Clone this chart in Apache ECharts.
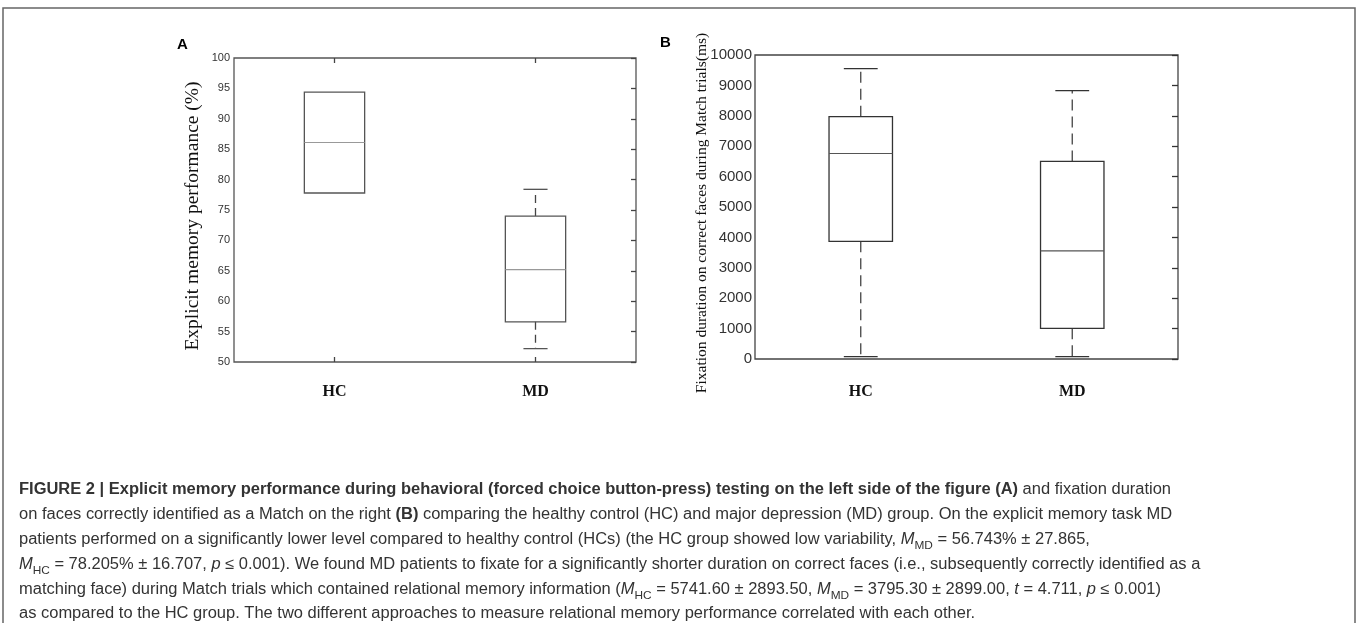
<!DOCTYPE html>
<html>
<head>
<meta charset="utf-8">
<script src="https://cdn.jsdelivr.net/npm/echarts@6/dist/echarts.min.js"></script>
<style>
  html, body { margin: 0; padding: 0; background: #fff; }
  #chart { width: 1357px; height: 623px; }
</style>
</head>
<body>
<div id="chart"></div>
<script>
// groups on the x axis
var groups = ['HC', 'MD'];

// panel A: explicit memory performance (%)
var memMin = [77.8, 52.2];
var memQ1 = [77.8, 56.6];
var memMed = [86.1, 65.2];
var memQ3 = [94.4, 74.0];
var memMax = [94.4, 78.4];

// panel B: fixation duration (ms)
var fixMin = [80, 80];
var fixQ1 = [3870, 1010];
var fixMed = [6760, 3560];
var fixQ3 = [7970, 6500];
var fixMax = [9550, 8830];

function rows(mn, q1, md, q3, mx) {
    var out = [];
    for (var i = 0; i < groups.length; i++) {
        out.push([i, mn[i], q1[i], md[i], q3[i], mx[i]]);
    }
    return out;
}

// box drawn with custom series so whiskers can be dashed
function boxRenderer(opt) {
    return function (params, api) {
        var i = api.value(0);
        var lo = api.coord([i, api.value(1)]);
        var q1 = api.coord([i, api.value(2)]);
        var md = api.coord([i, api.value(3)]);
        var q3 = api.coord([i, api.value(4)]);
        var hi = api.coord([i, api.value(5)]);
        var band = api.size([1, 0])[0];
        var bw = band * opt.boxFrac, cw = band * opt.capFrac;
        var cx = md[0];
        var solid = { stroke: opt.color, lineWidth: 1.3, fill: null };
        var dashed = { stroke: opt.whisker, lineWidth: 1.3, lineDash: opt.dash };
        var kids = [];
        if (hi[1] < q3[1] - 0.5) {
            kids.push({ type: 'line', shape: { x1: cx, y1: q3[1], x2: cx, y2: hi[1] }, style: dashed });
            kids.push({ type: 'line', shape: { x1: cx - cw / 2, y1: hi[1], x2: cx + cw / 2, y2: hi[1] }, style: solid });
        }
        if (lo[1] > q1[1] + 0.5) {
            kids.push({ type: 'line', shape: { x1: cx, y1: q1[1], x2: cx, y2: lo[1] }, style: dashed });
            kids.push({ type: 'line', shape: { x1: cx - cw / 2, y1: lo[1], x2: cx + cw / 2, y2: lo[1] }, style: solid });
        }
        kids.push({ type: 'rect', shape: { x: cx - bw / 2, y: q3[1], width: bw, height: q1[1] - q3[1] }, style: solid });
        kids.push({ type: 'line', shape: { x1: cx - bw / 2, y1: md[1], x2: cx + bw / 2, y2: md[1] }, style: { stroke: opt.median, lineWidth: 1.2 } });
        return { type: 'group', children: kids };
    };
}

var serif = '"Liberation Serif", "Times New Roman", serif';
var sans = '"Liberation Sans", Arial, sans-serif';

var chart = echarts.init(document.getElementById('chart'));

// caption in rich text, one line per row
var cap = [
    '{b|FIGURE 2 | Explicit memory performance during behavioral (forced choice button-press) testing on the left side of the figure (A)}{n| and fixation duration}',
    '{n|on faces correctly identified as a Match on the right }{b|(B)}{n| comparing the healthy control (HC) and major depression (MD) group. On the explicit memory task MD}',
    '{n|patients performed on a significantly lower level compared to healthy control (HCs) (the HC group showed low variability, }{i|M}{s|MD}{n| = 56.743% ± 27.865,}',
    '{i|M}{s|HC}{n| = 78.205% ± 16.707, }{i|p}{n| ≤ 0.001). We found MD patients to fixate for a significantly shorter duration on correct faces (i.e., subsequently correctly identified as a}',
    '{n|matching face) during Match trials which contained relational memory information (}{i|M}{s|HC}{n| = 5741.60 ± 2893.50, }{i|M}{s|MD}{n| = 3795.30 ± 2899.00, }{i|t}{n| = 4.711, }{i|p}{n| ≤ 0.001)}',
    '{n|as compared to the HC group. The two different approaches to measure relational memory performance correlated with each other.}'
].join('\n');

var LH = 24.8;
var FS = 16;

var option = {
    animation: false,
    grid: [
        { left: 234, top: 58, width: 402, height: 304, show: true, borderColor: '#555', borderWidth: 1.3, backgroundColor: 'transparent' },
        { left: 755, top: 55, width: 423, height: 304, show: true, borderColor: '#444', borderWidth: 1.3, backgroundColor: 'transparent' }
    ],
    xAxis: [
        {
            type: 'category', gridIndex: 0, data: groups, position: 'bottom',
            axisLine: { show: false },
            axisTick: { show: true, inside: true, alignWithLabel: true, length: 5, lineStyle: { color: '#444', width: 1.3 } },
            axisLabel: { margin: 22, fontFamily: serif, fontSize: 16, fontWeight: 'bold', color: '#111' }
        },
        {
            type: 'category', gridIndex: 0, data: groups, position: 'top',
            axisLine: { show: false },
            axisTick: { show: true, inside: true, alignWithLabel: true, length: 5, lineStyle: { color: '#444', width: 1.3 } },
            axisLabel: { show: false }
        },
        {
            type: 'category', gridIndex: 1, data: groups, position: 'bottom',
            axisLine: { show: false },
            axisTick: { show: false },
            axisLabel: { margin: 25, fontFamily: serif, fontSize: 16, fontWeight: 'bold', color: '#111' }
        }
    ],
    yAxis: [
        {
            type: 'value', gridIndex: 0, min: 50, max: 100, interval: 5, position: 'left',
            axisLine: { show: false }, axisTick: { show: false }, splitLine: { show: false },
            axisLabel: { margin: 4, fontFamily: sans, fontSize: 11, color: '#333' },
            name: 'Explicit memory performance (%)', nameLocation: 'middle', nameRotate: 90, nameGap: 31,
            nameMoveOverlap: false,
            nameTextStyle: { fontFamily: serif, fontSize: 19.5, color: '#111', padding: [0, 12, 0, 0] }
        },
        {
            type: 'value', gridIndex: 0, min: 50, max: 100, interval: 5, position: 'right',
            axisLine: { show: false }, splitLine: { show: false }, axisLabel: { show: false },
            axisTick: { show: true, inside: true, length: 5, lineStyle: { color: '#444', width: 1.3 } }
        },
        {
            type: 'value', gridIndex: 1, min: 0, max: 10000, interval: 1000, position: 'left',
            axisLine: { show: false }, axisTick: { show: false }, splitLine: { show: false },
            axisLabel: { margin: 3, fontFamily: sans, fontSize: 15, color: '#333', formatter: function (v) { return String(v); } },
            name: 'Fixation duration on correct faces during Match trials(ms)', nameLocation: 'middle', nameRotate: 90, nameGap: 45,
            nameMoveOverlap: false,
            nameTextStyle: { fontFamily: serif, fontSize: 15.5, color: '#111', padding: [0, 12, 0, 0] }
        },
        {
            type: 'value', gridIndex: 1, min: 0, max: 10000, interval: 1000, position: 'right',
            axisLine: { show: false }, splitLine: { show: false }, axisLabel: { show: false },
            axisTick: { show: true, inside: true, length: 6, lineStyle: { color: '#333', width: 1.3 } }
        }
    ],
    series: [
        {
            type: 'custom', xAxisIndex: 0, yAxisIndex: 0, clip: false,
            renderItem: boxRenderer({ boxFrac: 0.3, capFrac: 0.12, color: '#555', whisker: '#444', median: '#999', dash: [8, 5] }),
            data: rows(memMin, memQ1, memMed, memQ3, memMax)
        },
        {
            type: 'custom', xAxisIndex: 2, yAxisIndex: 2, clip: false,
            renderItem: boxRenderer({ boxFrac: 0.3, capFrac: 0.16, color: '#333', whisker: '#444', median: '#555', dash: [11, 6] }),
            data: rows(fixMin, fixQ1, fixMed, fixQ3, fixMax)
        }
    ],
    graphic: [
        { type: 'rect', shape: { x: 3, y: 8, width: 1352, height: 640 }, style: { fill: null, stroke: '#666', lineWidth: 1.5 }, silent: true },
        { type: 'text', x: 177, y: 37, style: { text: 'A', font: 'bold 15px ' + sans, fill: '#000' } },
        { type: 'text', x: 660, y: 35, style: { text: 'B', font: 'bold 15px ' + sans, fill: '#000' } },
        {
            type: 'text', x: 19, y: 490 - LH / 2, scaleX: 1.03,
            style: {
                text: cap,
                fill: '#333',
                font: FS + 'px ' + sans,
                lineHeight: LH,
                rich: {
                    n: { fontFamily: sans, fontSize: FS, color: '#333', lineHeight: LH },
                    b: { fontFamily: sans, fontSize: FS, fontWeight: 'bold', color: '#111', lineHeight: LH },
                    i: { fontFamily: sans, fontSize: FS, fontStyle: 'italic', color: '#333', lineHeight: LH },
                    s: { fontFamily: sans, fontSize: 11.5, color: '#333', lineHeight: 16, verticalAlign: 'bottom' }
                }
            }
        }
    ]
};

chart.setOption(option);
</script>
</body>
</html>
